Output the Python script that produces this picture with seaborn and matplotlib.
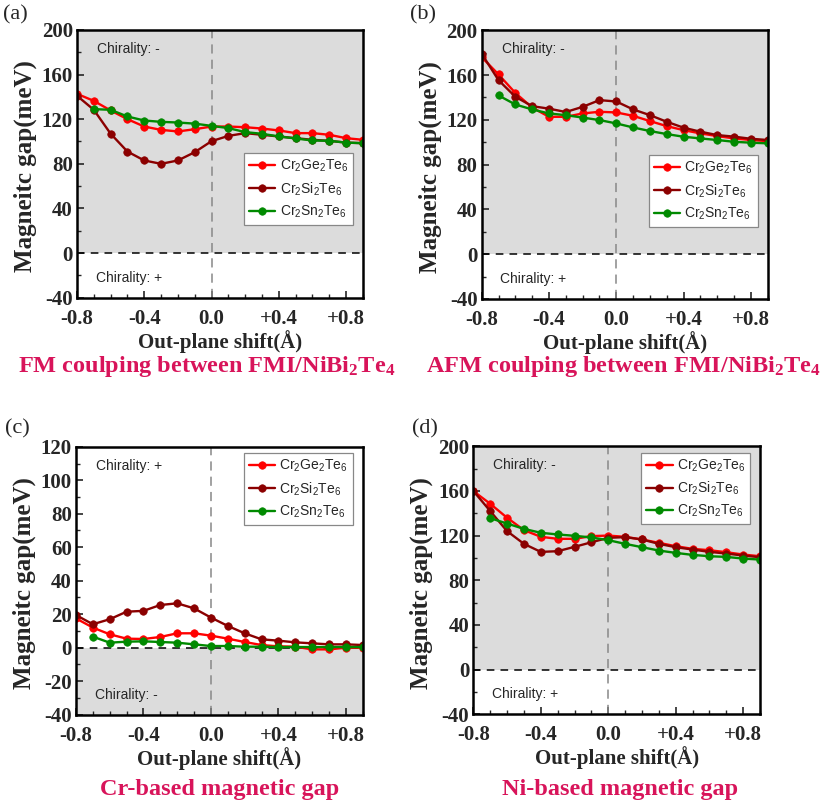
import numpy as np
import pandas as pd
import matplotlib
matplotlib.use("Agg")
import matplotlib.pyplot as plt
import seaborn as sns
from matplotlib.ticker import MultipleLocator

sns.set_style("ticks")
plt.rcParams["font.family"] = ["Liberation Serif", "DejaVu Serif"]
plt.rcParams["axes.unicode_minus"] = False

# Out-plane shift (Å)
shift = [-0.8, -0.7, -0.6, -0.5, -0.4, -0.3, -0.2, -0.1, 0.0,
         0.1, 0.2, 0.3, 0.4, 0.5, 0.6, 0.7, 0.8, 0.9]
shift_sn = shift[1:]

# (a) FM coupling between FMI/NiBi2Te4
a_ge = [142.7, 136.4, 127.8, 120.0, 113.4, 110.4, 109.0, 111.0, 113.4,
        113.4, 112.8, 111.6, 109.9, 107.5, 107.5, 106.0, 103.0, 101.5]
a_si = [141.0, 128.4, 107.0, 91.0, 83.0, 80.0, 83.0, 90.4, 100.3,
        105.0, 107.5, 106.0, 104.5, 103.0, 101.5, 100.6, 99.0, 98.5]
a_sn = [129.0, 128.4, 122.4, 118.8, 117.6, 117.0, 116.0, 114.0,
        112.0, 108.4, 106.9, 104.5, 102.7, 100.9, 100.6, 99.0, 98.5]

# (b) AFM coupling between FMI/NiBi2Te4
b_ge = [176.0, 160.5, 144.0, 131.0, 122.7, 122.7, 125.7, 127.2, 126.6,
        123.6, 118.9, 114.4, 110.8, 107.9, 105.5, 103.4, 102.0, 101.0]
b_si = [179.0, 155.4, 140.6, 132.2, 130.0, 127.0, 131.6, 137.6, 136.4,
        129.3, 124.2, 118.3, 113.0, 109.4, 106.4, 105.0, 103.1, 102.0]
b_sn = [141.8, 133.7, 129.3, 125.7, 124.2, 122.0, 119.8, 116.8,
        113.2, 110.0, 107.3, 104.9, 103.4, 102.0, 100.4, 99.6, 99.0]

# (c) Cr-based magnetic gap
c_ge = [17.5, 12.0, 8.0, 5.4, 5.2, 6.4, 8.6, 8.6, 7.2,
        5.4, 3.4, 1.6, 0.8, 0.6, -1.0, -1.0, 0.0, 0.0]
c_si = [19.5, 14.0, 17.0, 21.5, 22.0, 25.5, 26.5, 23.5, 18.0,
        13.0, 8.6, 5.0, 4.2, 3.2, 2.6, 2.0, 2.0, 1.6]
c_sn = [6.6, 3.0, 3.6, 3.8, 3.4, 3.0, 2.0, 1.0,
        1.0, 0.6, 0.6, 0.4, 0.4, 0.4, 0.4, 0.4, 0.4]

# (d) Ni-based magnetic gap
d_ge = [159.9, 148.5, 136.0, 124.9, 118.9, 117.1, 117.1, 119.5, 120.0,
        118.9, 116.5, 113.5, 110.5, 108.1, 106.9, 105.1, 103.0, 101.5]
d_si = [160.0, 142.0, 124.0, 112.6, 105.4, 106.0, 109.9, 114.0, 118.0,
        118.6, 116.5, 112.6, 109.6, 107.5, 105.4, 103.9, 102.1, 100.6]
d_sn = [135.6, 130.8, 126.0, 122.5, 121.0, 119.8, 118.3, 115.9,
        112.6, 109.6, 106.6, 104.5, 102.7, 101.5, 100.9, 99.4, 98.5]

materials = ["Cr$\\mathregular{_2}$Ge$\\mathregular{_2}$Te$\\mathregular{_6}$",
             "Cr$\\mathregular{_2}$Si$\\mathregular{_2}$Te$\\mathregular{_6}$",
             "Cr$\\mathregular{_2}$Sn$\\mathregular{_2}$Te$\\mathregular{_6}$"]
colors = ["#ff0000", "#8b0000", "#008a00"]

xtick_vals = [-0.8, -0.4, 0.0, 0.4, 0.8]
xtick_labels = ["-0.8", "-0.4", "0.0", "+0.4", "+0.8"]

titles = ["FM coulping between FMI/NiBi$\\mathregular{_2}$Te$\\mathregular{_4}$",
          "AFM coulping between FMI/NiBi$\\mathregular{_2}$Te$\\mathregular{_4}$",
          "Cr-based magnetic gap",
          "Ni-based magnetic gap"]
letters = ["(a)", "(b)", "(c)", "(d)"]

panels = [
    dict(data=(a_ge, a_si, a_sn), ylim=(-40, 200), ystep=40, minor=20,
         upper="Chirality: -", lower="Chirality: +", shade_upper=True,
         rect=[0.0934, 0.631, 0.347, 0.332], leg_top=0.54,
         letter_xy=(0.004, 0.981), title_xy=(0.251, 0.546)),
    dict(data=(b_ge, b_si, b_sn), ylim=(-40, 200), ystep=40, minor=20,
         upper="Chirality: -", lower="Chirality: +", shade_upper=True,
         rect=[0.5846, 0.6295, 0.347, 0.333], leg_top=0.535,
         letter_xy=(0.497, 0.981), title_xy=(0.757, 0.546)),
    dict(data=(c_ge, c_si, c_sn), ylim=(-40, 120), ystep=20, minor=10,
         upper="Chirality: +", lower="Chirality: -", shade_upper=False,
         rect=[0.0922, 0.1144, 0.348, 0.332], leg_top=0.976,
         letter_xy=(0.006, 0.469), title_xy=(0.267, 0.022)),
    dict(data=(d_ge, d_si, d_sn), ylim=(-40, 200), ystep=40, minor=20,
         upper="Chirality: -", lower="Chirality: +", shade_upper=True,
         rect=[0.5744, 0.115, 0.348, 0.332], leg_top=0.976,
         letter_xy=(0.500, 0.469), title_xy=(0.7525, 0.022)),
]

fig = plt.figure(figsize=(8.24, 8.07), dpi=100)
shade = "#dcdcdc"
title_color = "#d8145a"

for i, p in enumerate(panels):
    ax = fig.add_axes(p["rect"])
    ymin, ymax = p["ylim"]
    if p["shade_upper"]:
        ax.axhspan(0, ymax, color=shade, zorder=0, lw=0)
    else:
        ax.axhspan(ymin, 0, color=shade, zorder=0, lw=0)
    ax.axhline(0, color="black", ls=(0, (5, 4)), lw=1.1, zorder=1)
    ax.axvline(0, color="#888888", ls=(0, (6, 4)), lw=1.1, zorder=1)

    for j, (vals, name, col) in enumerate(zip(p["data"], materials, colors)):
        xs = shift_sn if j == 2 else shift
        df = pd.DataFrame({"x": xs, "y": vals})
        sns.lineplot(data=df, x="x", y="y", ax=ax, color=col, marker="o",
                     markersize=5.4, markeredgecolor=col, markeredgewidth=0.5,
                     linewidth=1.7, label=name, zorder=3)

    ax.set_xlim(-0.8, 0.9)
    ax.set_ylim(ymin, ymax)
    ax.set_xticks(xtick_vals)
    ax.set_xticklabels(xtick_labels)
    ax.xaxis.set_minor_locator(MultipleLocator(0.1))
    ax.set_yticks(np.arange(ymin, ymax + 1, p["ystep"]))
    ax.yaxis.set_minor_locator(MultipleLocator(p["minor"]))
    ax.tick_params(axis="both", which="major", direction="in", length=5,
                   width=1.2, labelsize=15, top=False, right=False)
    ax.tick_params(axis="x", which="major", pad=8)
    ax.tick_params(axis="y", which="major", pad=3)
    ax.tick_params(axis="both", which="minor", direction="in", length=3,
                   width=1.0, top=False, right=False)
    for lab in ax.get_xticklabels() + ax.get_yticklabels():
        lab.set_fontweight("bold")
    for s in ax.spines.values():
        s.set_linewidth(1.8)
        s.set_color("black")
        s.set_zorder(5)

    ax.set_xlabel("Out-plane shift(Å)", fontsize=15, fontweight="bold")
    ax.set_ylabel("Magneitc gap(meV)", fontsize=18, fontweight="bold")
    ax.xaxis.set_label_coords(0.5, -0.12)
    ax.yaxis.set_label_coords(-0.14, 0.49)

    ax.text(0.07, 0.93, p["upper"], transform=ax.transAxes, fontsize=10,
            family="Liberation Sans", va="center", ha="left")
    ax.text(0.065, 0.075, p["lower"], transform=ax.transAxes, fontsize=10,
            family="Liberation Sans", va="center", ha="left")

    leg = ax.legend(loc="upper right", bbox_to_anchor=(0.965, p["leg_top"]),
                    prop={"family": "Liberation Sans", "size": 10},
                    frameon=True, fancybox=False, framealpha=1,
                    edgecolor="#888888", handlelength=1.9, handletextpad=0.3,
                    borderpad=0.35, labelspacing=0.42, borderaxespad=0)
    leg.get_frame().set_linewidth(0.9)

    # panel letter and coloured caption
    fig.text(*p["letter_xy"], letters[i], fontsize=16, ha="left", va="center")
    fig.text(*p["title_xy"], titles[i], fontsize=17.5, fontweight="bold",
             color=title_color, ha="center", va="center")

fig.savefig("out.png", dpi=100)
